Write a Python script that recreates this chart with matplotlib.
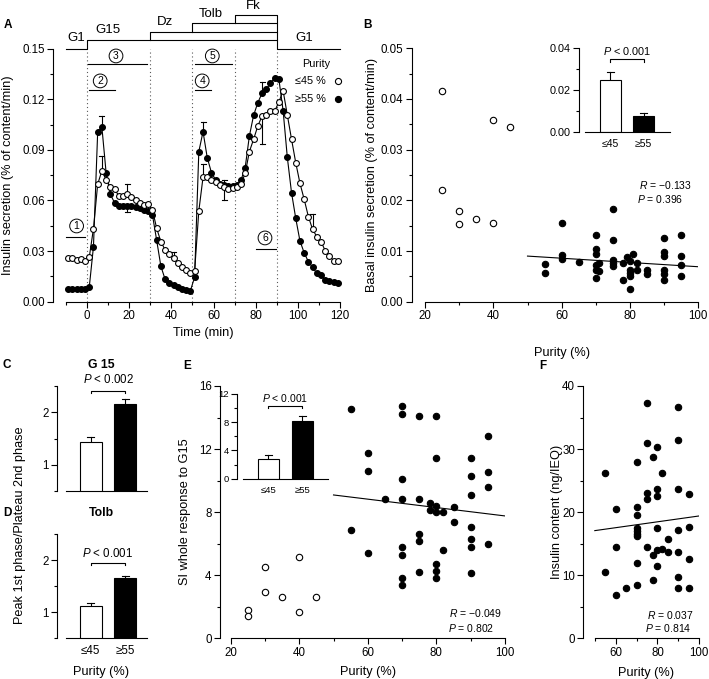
import numpy as np
import matplotlib
matplotlib.use('Agg')
import matplotlib.pyplot as plt
from matplotlib.ticker import MultipleLocator, FormatStrFormatter

plt.rcParams['font.family'] = ['Liberation Sans', 'DejaVu Sans']
plt.rcParams['mathtext.fontset'] = 'custom'
plt.rcParams['mathtext.it'] = 'Liberation Sans:italic'
plt.rcParams['mathtext.rm'] = 'Liberation Sans'
plt.rcParams['axes.linewidth'] = 0.8

# ---- panel A: perifusion time course ----
time = np.arange(-9, 120, 2)
secr_high = [0.0075, 0.0075, 0.0075, 0.0076, 0.0078, 0.0085,
             0.0326, 0.1005, 0.1035, 0.0765, 0.0637, 0.0587, 0.0570, 0.0565, 0.0570, 0.0568,
             0.0562, 0.0555, 0.0545, 0.0540, 0.0514, 0.0364, 0.0210, 0.0133, 0.0113, 0.0100,
             0.0088, 0.0078, 0.0070, 0.0065, 0.0145, 0.0890, 0.1008, 0.0854, 0.0765, 0.0722,
             0.0700, 0.0690, 0.0686, 0.0688, 0.0690, 0.0720, 0.0795, 0.0983, 0.1105, 0.1180,
             0.1236, 0.1260, 0.1295, 0.1327, 0.1319, 0.1133, 0.0856, 0.0646, 0.0494, 0.0360,
             0.0290, 0.0237, 0.0204, 0.0168, 0.0157, 0.0130, 0.0122, 0.0115, 0.0110]
secr_low = [0.0257, 0.0259, 0.0247, 0.0251, 0.0243, 0.0263,
            0.0433, 0.0696, 0.0777, 0.0722, 0.0682, 0.0666, 0.0629, 0.0629, 0.0637, 0.0623,
            0.0603, 0.0583, 0.0573, 0.0577, 0.0544, 0.0435, 0.0356, 0.0307, 0.0283, 0.0259,
            0.0228, 0.0204, 0.0188, 0.0172, 0.0180, 0.0538, 0.0738, 0.0738, 0.0722, 0.0712,
            0.0690, 0.0680, 0.0667, 0.0672, 0.0682, 0.0696, 0.0761, 0.0890, 0.0963, 0.1042,
            0.1100, 0.1109, 0.1133, 0.1130, 0.1184, 0.1251, 0.1107, 0.0963, 0.0824, 0.0702,
            0.0607, 0.0504, 0.0429, 0.0385, 0.0356, 0.0302, 0.0271, 0.0243, 0.0243]
# SEM shown on a few points (positive = upward, negative = downward)
err_t_low = [7, 19, 41, 55, 65, 83, 107]
err_low = [0.0087, 0.0063, 0.0038, 0.0079, -0.008, -0.0167, 0.009]
err_t_high = [7, 19, 55, 65, 83]
err_high = [0.0066, -0.0036, 0.006, 0.003, 0.0065]

stim_names = ['Dz', 'Tolb', 'Fk']
stim_start = [30, 50, 70]
stim_end = 90
phase_marks = [0, 30, 50, 70, 90]

# ---- panel B: basal secretion vs purity ----
b_low_x = [25, 25, 30, 30, 35, 40, 40, 45]
b_low_y = [0.0416, 0.0220, 0.0178, 0.0153, 0.0163, 0.0359, 0.0156, 0.0344]
b_high_x = [55, 55, 60, 60, 60, 65, 70, 70, 70, 70, 70, 70, 71, 71, 75, 75, 75, 75, 75,
            78, 78, 79, 80, 80, 80, 80, 80, 81, 82, 82, 85, 85, 90, 90, 90, 90, 90, 90,
            95, 95, 95, 95]
b_high_y = [0.0074, 0.0056, 0.0156, 0.0093, 0.0085, 0.0078, 0.0131, 0.0103, 0.0095, 0.0073,
            0.0062, 0.0047, 0.0077, 0.0060, 0.0182, 0.0121, 0.0083, 0.0077, 0.0070, 0.0042,
            0.0077, 0.0088, 0.0081, 0.0063, 0.0056, 0.0050, 0.0025, 0.0095, 0.0077, 0.0063,
            0.0063, 0.0055, 0.0126, 0.0098, 0.0090, 0.0063, 0.0055, 0.0042, 0.0132, 0.0091,
            0.0073, 0.0050]
b_fit_x = [50, 100]
b_fit_y = [0.0090, 0.0069]
b_bar = [0.0249, 0.0079]
b_bar_err = [0.0040, 0.0011]

# ---- panels C, D: peak/plateau ratio ----
groups = ['≤45', '≥55']
c_bar = [1.43, 2.15]
c_err = [0.09, 0.11]
d_bar = [1.125, 1.65]
d_err = [0.055, 0.05]

# ---- panel E: stimulation index vs purity ----
e_low_x = [25, 25, 30, 30, 35, 40, 40, 45]
e_low_y = [1.80, 1.42, 4.50, 2.92, 2.60, 5.18, 1.69, 2.60]
e_high_x = [55, 55, 60, 60, 60, 65, 70, 70, 70, 70, 70, 70, 70, 70, 75, 75, 75, 75, 75,
            78, 78, 80, 80, 80, 80, 80, 80, 80, 82, 82, 85, 85, 90, 90, 90, 90, 90, 90, 90,
            95, 95, 95, 95]
e_high_y = [14.52, 6.87, 11.73, 10.63, 5.39, 8.82, 14.74, 14.23, 10.10, 8.82, 5.81, 5.29,
            3.81, 3.38, 14.12, 8.82, 6.60, 6.19, 4.19, 8.60, 8.14, 14.12, 11.42, 8.41, 7.99,
            4.71, 4.29, 3.81, 7.99, 5.60, 8.31, 7.40, 11.42, 10.32, 9.09, 7.08, 6.28, 5.81,
            4.12, 12.83, 10.53, 9.62, 5.98]
e_fit_x = [50, 100]
e_fit_y = [9.09, 7.76]
e_bar = [2.79, 8.22]
e_bar_err = [0.56, 0.66]

# ---- panel F: insulin content vs purity ----
f_x = [55, 55, 60, 60, 60, 65, 70, 70, 70, 70, 70, 70, 70, 70, 70, 75, 75, 75, 75, 75,
       78, 78, 78, 80, 80, 80, 80, 80, 80, 82, 82, 85, 85, 90, 90, 90, 90, 90, 90, 90,
       95, 95, 95, 95]
f_y = [26.2, 10.5, 20.5, 14.5, 6.8, 8.0, 28.0, 20.8, 19.5, 17.5, 17.0, 16.5, 16.2, 11.9,
       8.4, 37.3, 31.0, 23.0, 22.1, 14.4, 28.7, 13.2, 9.2, 30.3, 23.6, 22.5, 17.5, 14.0,
       11.5, 26.2, 14.2, 15.8, 13.7, 36.7, 31.4, 23.7, 17.2, 13.7, 9.7, 8.0, 22.8, 17.7,
       12.5, 8.0]
f_fit_x = [50, 100]
f_fit_y = [17.07, 19.4]

W, H = 709, 679
fig = plt.figure(figsize=(W / 100, H / 100), dpi=100)

LAB = 9.2
TCK = 8.3
SML = 7.5


def add_ax(l, t, r, b):
    return fig.add_axes([l / W, 1 - b / H, (r - l) / W, (b - t) / H])


def ftext(x, y, s, **kw):
    kw.setdefault('ha', 'center')
    kw.setdefault('va', 'center')
    fig.text(x / W, 1 - y / H, s, **kw)


def style(ax, xb=None, size=TCK):
    for s in ['top', 'right']:
        ax.spines[s].set_visible(False)
    ax.tick_params(which='major', direction='out', length=4, width=0.8, labelsize=size, pad=2)
    ax.tick_params(which='minor', direction='out', length=2.2, width=0.8)
    if xb is not None:
        ax.spines['bottom'].set_bounds(*xb)


def dots(ax, x, y, filled, ms=4.6):
    ax.plot(x, y, 'o', ls='none', ms=ms, mfc='black' if filled else 'white',
            mec='black', mew=0.8, zorder=3, clip_on=False)


def bars(ax, vals, errs, cap=0.11):
    ax.bar([0, 1], vals, width=0.63, color=['white', 'black'], edgecolor='black',
           linewidth=0.8, zorder=2)
    for i, (v, e) in enumerate(zip(vals, errs)):
        ax.plot([i, i], [v, v + e], color='k', lw=0.8, zorder=1)
        ax.plot([i - cap, i + cap], [v + e, v + e], color='k', lw=0.8, zorder=1)


def bracket(ax, y, dy, ty, txt, fs):
    ax.plot([0, 0, 1, 1], [y - dy, y, y, y - dy], color='k', lw=0.8, clip_on=False)
    ax.text(0.5, ty, txt, ha='center', va='center', fontsize=fs, clip_on=False)


# ================= A =================
axA = add_ax(53, 48.7, 340, 301.7)
style(axA, xb=(-10, 120))
axA.set_xlim(-16.2, 120)
axA.set_ylim(0, 0.15)
axA.yaxis.set_major_locator(MultipleLocator(0.03))
axA.yaxis.set_minor_locator(MultipleLocator(0.015))
axA.yaxis.set_major_formatter(FormatStrFormatter('%.2f'))
axA.xaxis.set_major_locator(MultipleLocator(20))
axA.xaxis.set_minor_locator(MultipleLocator(10))
axA.vlines(phase_marks, 0, 0.15, colors='0.35', linestyles=(0, (1, 2.5)), lw=0.8)

axA.plot(time, secr_high, '-', color='k', lw=0.8, zorder=2)
axA.plot(time, secr_low, '-', color='k', lw=0.8, zorder=2)
dots(axA, time, secr_high, True, ms=4.2)
dots(axA, time, secr_low, False, ms=4.2)
for tl, el in [(err_t_low, err_low), (err_t_high, err_high)]:
    series = secr_low if tl is err_t_low else secr_high
    for t, e in zip(tl, el):
        v = series[(t + 9) // 2]
        axA.plot([t, t], [v, v + e], color='k', lw=0.8, zorder=1)
        axA.plot([t - 1.2, t + 1.2], [v + e, v + e], color='k', lw=0.8, zorder=1)

# stimulus protocol above the axes
lv = [0.15, 0.1553, 0.1601, 0.1651, 0.1698]
axA.plot([-10, 0, 0, stim_end, stim_end, 120], [lv[0], lv[0], lv[1], lv[1], lv[0], lv[0]],
         color='k', lw=0.8, clip_on=False)
for i, s in enumerate(stim_start):
    axA.plot([s, s, stim_end, stim_end], [lv[i + 1], lv[i + 2], lv[i + 2], lv[i + 1]],
             color='k', lw=0.8, clip_on=False)
prot_fs = 9.5
axA.text(-5, 0.1562, 'G1', ha='center', va='center', fontsize=prot_fs)
axA.text(10, 0.1610, 'G15', ha='center', va='center', fontsize=prot_fs)
axA.text(103, 0.1562, 'G1', ha='center', va='center', fontsize=prot_fs)
for name, s, x, y in zip(stim_names, stim_start, [37, 58.5, 79], [0.1657, 0.1706, 0.1753]):
    axA.text(x, y, name, ha='center', va='center', fontsize=prot_fs)

# numbered phase markers
for num, cx, cy, ly, lx0, lx1 in [(1, -5, 0.0449, 0.0384, -10, -1),
                                   (2, 6.2, 0.1309, 0.1256, 1, 13.3),
                                   (3, 13.7, 0.1457, 0.1408, 0.5, 28.4),
                                   (4, 54.6, 0.1309, 0.1256, 51, 59),
                                   (5, 59.4, 0.1457, 0.1408, 51, 68.7),
                                   (6, 84.4, 0.0378, 0.0313, 80, 89.5)]:
    axA.text(cx, cy, str(num), ha='center', va='center', fontsize=7.5,
             bbox=dict(boxstyle='circle,pad=0.18', fc='white', ec='k', lw=0.7))
    axA.plot([lx0, lx1], [ly, ly], color='k', lw=0.8)

# legend
axA.text(108.6, 0.1409, 'Purity', ha='center', va='center', fontsize=SML + 0.3)
axA.text(113.4, 0.1309, '≤45 %', ha='right', va='center', fontsize=SML + 0.3)
axA.text(113.4, 0.1202, '≥55 %', ha='right', va='center', fontsize=SML + 0.3)
dots(axA, [119], [0.1309], False, ms=4.4)
dots(axA, [119], [0.1202], True, ms=4.4)

ftext(8, 175, 'Insulin secretion (% of content/min)', rotation=90, fontsize=LAB)
ftext(203, 333, 'Time (min)', fontsize=LAB)
ftext(8, 25, 'A', fontsize=8.5, fontweight='bold')

# ================= B =================
axB = add_ax(411.7, 48.3, 698.3, 301.7)
style(axB, xb=(20, 100))
axB.set_xlim(16.1, 100)
axB.set_ylim(0, 0.05)
axB.yaxis.set_major_locator(MultipleLocator(0.01))
axB.yaxis.set_minor_locator(MultipleLocator(0.005))
axB.yaxis.set_major_formatter(FormatStrFormatter('%.2f'))
axB.xaxis.set_major_locator(MultipleLocator(20))
axB.xaxis.set_minor_locator(MultipleLocator(10))
axB.plot(b_fit_x, b_fit_y, color='k', lw=0.8)
dots(axB, b_low_x, b_low_y, False)
dots(axB, b_high_x, b_high_y, True)
axB.text(98.2, 0.0230, r'$R$ = −0.133', ha='right', va='center', fontsize=SML)
axB.text(82, 0.0203, r'$P$ = 0.396', ha='left', va='center', fontsize=SML)
ftext(372, 175, 'Basal insulin secretion (% of content/min)', rotation=90, fontsize=LAB)
ftext(562, 353, 'Purity (%)', fontsize=LAB)
ftext(368, 25, 'B', fontsize=8.5, fontweight='bold')

axBi = add_ax(579.3, 48.3, 670, 132.3)
style(axBi, xb=(-0.77, 1.79), size=SML + 0.3)
axBi.set_xlim(-0.937, 1.79)
axBi.set_ylim(0, 0.04)
axBi.set_yticks([0, 0.02, 0.04])
axBi.yaxis.set_minor_locator(MultipleLocator(0.01))
axBi.yaxis.set_major_formatter(FormatStrFormatter('%.2f'))
axBi.set_xticks([0, 1])
axBi.set_xticklabels(groups, fontsize=SML)
axBi.tick_params(axis='x', length=0, pad=5)
bars(axBi, b_bar, b_bar_err)
bracket(axBi, 0.0348, 0.0011, 0.0387, r'$P$ < 0.001', SML + 0.3)

# ================= C & D =================
for rect, vals, errs, title, label, (by, bdy, ty, ptxt), show_x in [
        ((57.3, 386, 146.7, 491), c_bar, c_err, 'G 15', 'C', (2.41, 0.05, 2.63, r'$P$ < 0.002'), False),
        ((57.3, 534, 146.7, 638.3), d_bar, d_err, 'Tolb', 'D', (1.95, 0.035, 2.13, r'$P$ < 0.001'), True)]:
    ax = add_ax(*rect)
    style(ax, xb=(-0.72, 1.625))
    ax.set_xlim(-0.974, 1.625)
    ax.set_ylim(0.5, 2.5)
    ax.set_yticks([1, 2])
    ax.yaxis.set_minor_locator(MultipleLocator(0.5))
    ax.set_xticks([0, 1])
    ax.tick_params(axis='x', length=0, pad=5)
    if show_x:
        ax.set_xticklabels(groups, fontsize=TCK)
    else:
        ax.set_xticklabels([])
    bars(ax, vals, errs, cap=0.1)
    bracket(ax, by, bdy, ty, ptxt, TCK)
    ftext(101.5, rect[1] - 20.7, title, fontsize=8.8, fontweight='bold')
    ftext(7, rect[1] - 20.7, label, fontsize=8.5, fontweight='bold')

ftext(20, 525, 'Peak 1st phase/Plateau 2nd phase', rotation=90, fontsize=LAB)
ftext(101, 672, 'Purity (%)', fontsize=LAB)

# ================= E =================
axE = add_ax(220, 386, 505, 638.3)
style(axE, xb=(20, 100))
axE.set_xlim(16.9, 100)
axE.set_ylim(0, 16)
axE.yaxis.set_major_locator(MultipleLocator(4))
axE.yaxis.set_minor_locator(MultipleLocator(2))
axE.xaxis.set_major_locator(MultipleLocator(20))
axE.xaxis.set_minor_locator(MultipleLocator(10))
axE.plot(e_fit_x, e_fit_y, color='k', lw=0.8)
dots(axE, e_low_x, e_low_y, False)
dots(axE, e_high_x, e_high_y, True)
axE.text(99, 1.59, r'$R$ = −0.049', ha='right', va='center', fontsize=SML)
axE.text(83.5, 0.63, r'$P$ = 0.802', ha='left', va='center', fontsize=SML)
ftext(185, 512, 'SI whole response to G15', rotation=90, fontsize=LAB)
ftext(368, 672, 'Purity (%)', fontsize=LAB)
ftext(187, 366, 'E', fontsize=8.5, fontweight='bold')

axEi = add_ax(237.3, 394, 327.7, 478.7)
style(axEi, xb=(-0.73, 1.737), size=6.8)
axEi.set_xlim(-0.906, 1.737)
axEi.set_ylim(0, 12)
axEi.yaxis.set_major_locator(MultipleLocator(4))
axEi.yaxis.set_minor_locator(MultipleLocator(2))
axEi.set_xticks([0, 1])
axEi.set_xticklabels(groups, fontsize=6.8)
axEi.tick_params(axis='x', length=0, pad=5)
bars(axEi, e_bar, e_bar_err)
bracket(axEi, 10.3, 0.33, 11.4, r'$P$ < 0.001', SML)

# ================= F =================
axF = add_ax(583.3, 386, 699.3, 638.3)
style(axF, xb=(50, 100))
axF.set_xlim(44.5, 100)
axF.set_ylim(0, 40)
axF.yaxis.set_major_locator(MultipleLocator(10))
axF.yaxis.set_minor_locator(MultipleLocator(5))
axF.xaxis.set_major_locator(MultipleLocator(20))
axF.xaxis.set_minor_locator(MultipleLocator(10))
axF.plot(f_fit_x, f_fit_y, color='k', lw=0.8)
dots(axF, f_x, f_y, True)
axF.text(97.4, 3.7, r'$R$ = 0.037', ha='right', va='center', fontsize=SML)
axF.text(74, 1.59, r'$P$ = 0.814', ha='left', va='center', fontsize=SML)
ftext(557, 512, 'Insulin content (ng/IEQ)', rotation=90, fontsize=LAB)
ftext(646, 673, 'Purity (%)', fontsize=LAB)
ftext(543, 366, 'F', fontsize=8.5, fontweight='bold')

fig.savefig('out.png', dpi=100)
